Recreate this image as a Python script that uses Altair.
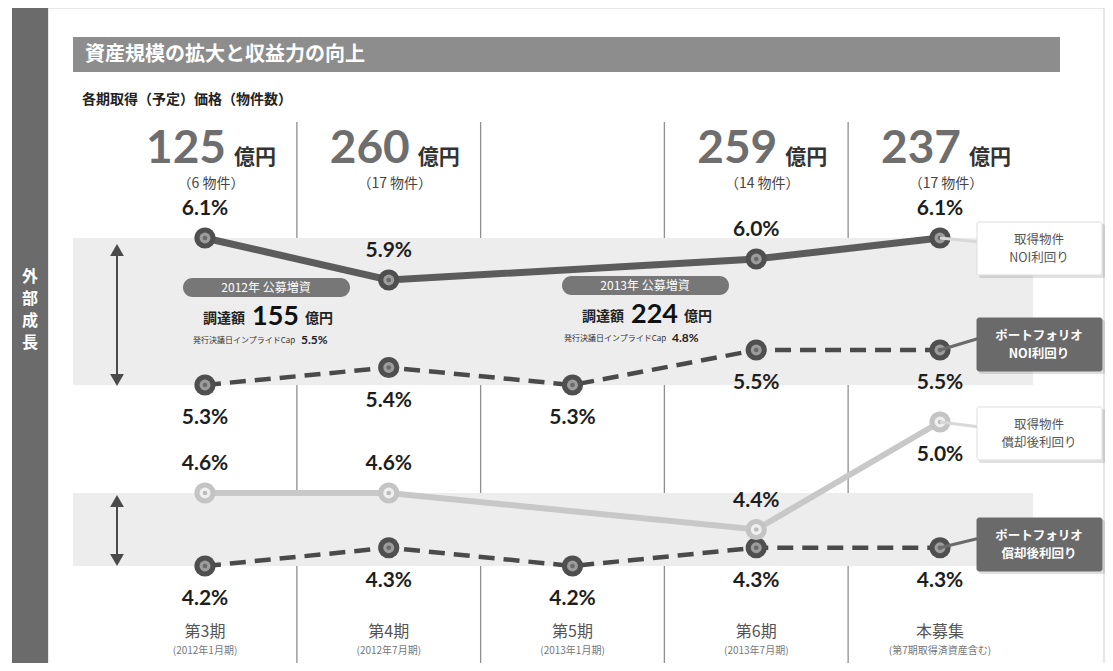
import altair as alt
import pandas as pd

# ---------------- data ----------------
periods = ["第3期", "第4期", "第5期", "第6期", "本募集"]
period_notes = ["(2012年1月期)", "(2012年7月期)", "(2013年1月期)", "(2013年7月期)", "(第7期取得済資産含む)"]
acq_price = [125, 260, None, 259, 237]      # 億円
acq_count = [6, 17, None, 14, 17]           # 物件数
noi_acq = [6.1, 5.9, None, 6.0, 6.1]        # 取得物件 NOI利回り
noi_pf = [5.3, 5.4, 5.3, 5.5, 5.5]          # ポートフォリオ NOI利回り
dep_acq = [4.6, 4.6, None, 4.4, 5.0]        # 取得物件 償却後利回り
dep_pf = [4.2, 4.3, 4.2, 4.3, 4.3]          # ポートフォリオ 償却後利回り
series_names = [["取得物件", "NOI利回り"], ["ポートフォリオ", "NOI利回り"],
                ["取得物件", "償却後利回り"], ["ポートフォリオ", "償却後利回り"]]
side_title = ["外", "部", "成", "長"]
offerings = ["2012年 公募増資", "2013年 公募増資"]
raised = [155, 224]                          # 億円
implied_cap = [5.5, 4.8]                     # %
band_ranges = [(6.1, 5.3), (4.6, 4.2)]

# label placement (layout only)
label_side = {
    "noi_acq": ["a", "a", "a", "a", "a"],
    "noi_pf": ["b", "b", "b", "b", "b"],
    "dep_acq": ["a", "a", "a", "a", "b"],
    "dep_pf": ["b", "b", "b", "b", "b"],
}

JP = "Noto Sans CJK JP"
NUM = "Lato"
xs = alt.Scale(domain=[0, 4], range=[197, 932], nice=False, zero=False)
ys = alt.Scale(domain=[4.2, 4.6, 5.0, 5.3, 5.9, 6.1], range=[558, 485, 414, 377, 272, 230],
               nice=False, zero=False)
one = pd.DataFrame({"a": [0]})

def X(f="idx:Q"):
    return alt.X(f, scale=xs, axis=None)

def Y(f="v:Q"):
    return alt.Y(f, scale=ys, axis=None)

layers = []

# frame + left bar
layers.append(alt.Chart(one).mark_rect(fill="white", stroke="#cfcfcf", strokeWidth=1).encode(
    x=alt.value(40), x2=alt.value(1096), y=alt.value(0), y2=alt.value(662)))
layers.append(alt.Chart(one).mark_rect(fill="#6b6b6b").encode(
    x=alt.value(4), x2=alt.value(40), y=alt.value(0), y2=alt.value(655)))
for k, ch in enumerate(side_title):
    layers.append(alt.Chart(one).mark_text(text=ch, fontSize=16, font=JP, fontWeight="bold",
                                           color="white", align="center", baseline="middle").encode(
        x=alt.value(22), y=alt.value(269 + 22 * k)))

# title bar
layers.append(alt.Chart(one).mark_rect(fill="#8d8d8d").encode(
    x=alt.value(65), x2=alt.value(1052), y=alt.value(29), y2=alt.value(64)))
layers.append(alt.Chart(one).mark_text(text="資産規模の拡大と収益力の向上", fontSize=20, font=JP,
                                       fontWeight="bold", color="white", align="left",
                                       baseline="middle").encode(x=alt.value(77), y=alt.value(47)))
layers.append(alt.Chart(one).mark_text(text="各期取得（予定）価格（物件数）", fontSize=14, font=JP,
                                       fontWeight="bold", color="#222", align="left",
                                       baseline="middle").encode(x=alt.value(74), y=alt.value(92)))

# dividers
div = pd.DataFrame({"idx": [0.5, 1.5, 2.5, 3.5]})
layers.append(alt.Chart(div).mark_rule(color="#8f8f8f", strokeWidth=1.3).encode(
    x=X(), y=alt.value(114), y2=alt.value(655)))

# bands
band = pd.DataFrame({"top": [b[0] for b in band_ranges], "bottom": [b[1] for b in band_ranges]})
layers.append(alt.Chart(band).mark_rect(fill="#ededed").encode(
    x=alt.value(65), x2=alt.value(1025), y=Y("top:Q"), y2="bottom:Q"))

# arrows
for top, bot in [(236, 378), (487, 558)]:
    layers.append(alt.Chart(one).mark_rule(color="#4a4a4a", strokeWidth=2).encode(
        x=alt.value(109), y=alt.value(top + 8), y2=alt.value(bot - 8)))
    layers.append(alt.Chart(one).mark_point(shape="triangle-up", filled=True, size=190,
                                            color="#4a4a4a", opacity=1).encode(
        x=alt.value(109), y=alt.value(top + 6)))
    layers.append(alt.Chart(one).mark_point(shape="triangle-down", filled=True, size=190,
                                            color="#4a4a4a", opacity=1).encode(
        x=alt.value(109), y=alt.value(bot - 6)))

def sdf(vals):
    d = pd.DataFrame({"idx": range(5), "v": vals})
    return d.dropna()

def line_layers(vals, color, width, dash, ring, inner, core):
    d = sdf(vals)
    kw = dict(color=color, strokeWidth=width)
    if dash:
        kw["strokeDash"] = dash
    out = [alt.Chart(d).mark_line(**kw).encode(x=X(), y=Y())]
    out.append(alt.Chart(d).mark_circle(size=450, color=ring, opacity=1).encode(x=X(), y=Y()))
    out.append(alt.Chart(d).mark_circle(size=120, color=inner, opacity=1).encode(x=X(), y=Y()))
    out.append(alt.Chart(d).mark_circle(size=22, color=core, opacity=1).encode(x=X(), y=Y()))
    return out

layers += line_layers(noi_acq, "#5c5c5c", 7, None, "#4f4f4f", "#9c9c9c", "#6a6a6a")
layers += line_layers(noi_pf, "#4a4a4a", 4.5, [16, 9], "#4f4f4f", "#9c9c9c", "#6a6a6a")
layers += line_layers(dep_pf, "#4a4a4a", 4.5, [16, 9], "#4f4f4f", "#9c9c9c", "#6a6a6a")
layers += line_layers(dep_acq, "#c8c8c8", 6, None, "#c4c4c4", "#efefef", "#bcbcbc")

# value labels
for key, vals in [("noi_acq", noi_acq), ("noi_pf", noi_pf), ("dep_acq", dep_acq), ("dep_pf", dep_pf)]:
    d = pd.DataFrame({"idx": range(5), "v": vals, "side": label_side[key]}).dropna()
    d["lab"] = d["v"].map(lambda v: f"{v:.1f}%")
    for side, dy in [("a", -29), ("b", 33)]:
        dd = d[d["side"] == side]
        if len(dd):
            layers.append(alt.Chart(dd).mark_text(dy=dy, fontSize=21, font=NUM, fontWeight="bold",
                                                  color="#1e1e1e", baseline="middle").encode(
                x=X(), y=Y(), text="lab:N"))

# headline acquisition prices
hd = pd.DataFrame({"idx": range(5), "price": acq_price, "count": acq_count}).dropna()
hd["price"] = hd["price"].astype(int)
hd["cnt"] = hd["count"].map(lambda n: f"（{int(n)} 物件）")
layers.append(alt.Chart(hd).mark_text(align="right", baseline="alphabetic", dx=21, fontSize=46,
                                      font=NUM, fontWeight="bold", color="#6e6e6e").encode(
    x=X(), y=alt.value(155), text="price:Q"))
layers.append(alt.Chart(hd).mark_text(text="億円", align="left", baseline="alphabetic", dx=29,
                                      fontSize=21, font=JP, fontWeight="bold", color="#333").encode(
    x=X(), y=alt.value(156)))
layers.append(alt.Chart(hd).mark_text(align="center", baseline="middle", dx=6, fontSize=14,
                                      font=JP, color="#444").encode(
    x=X(), y=alt.value(176), text="cnt:N"))

# period labels
pdf = pd.DataFrame({"idx": range(5), "p": periods, "n": period_notes})
layers.append(alt.Chart(pdf).mark_text(fontSize=16, font=JP, color="#555", baseline="middle").encode(
    x=X(), y=alt.value(624), text="p:N"))
layers.append(alt.Chart(pdf).mark_text(fontSize=10, font=JP, color="#777", baseline="middle").encode(
    x=X(), y=alt.value(643), text="n:N"))

# offering callouts
for i, (px0, py0) in enumerate([(175, 270), (554, 268)]):
    layers.append(alt.Chart(one).mark_rect(fill="#777777", cornerRadius=10).encode(
        x=alt.value(px0), x2=alt.value(px0 + 167), y=alt.value(py0), y2=alt.value(py0 + 19)))
    layers.append(alt.Chart(one).mark_text(text=offerings[i], fontSize=12, font=JP, color="white",
                                           baseline="middle").encode(
        x=alt.value(px0 + 83), y=alt.value(py0 + 10)))
    ty = py0 + 40
    layers.append(alt.Chart(one).mark_text(text="調達額", fontSize=14, font=JP, fontWeight="bold",
                                           color="#222", align="right", baseline="middle").encode(
        x=alt.value(px0 + 62), y=alt.value(ty + 1)))
    layers.append(alt.Chart(one).mark_text(text=str(raised[i]), fontSize=27, font=NUM,
                                           fontWeight="bold", color="#111", align="left",
                                           baseline="middle").encode(
        x=alt.value(px0 + 69), y=alt.value(ty - 1)))
    layers.append(alt.Chart(one).mark_text(text="億円", fontSize=14, font=JP, fontWeight="bold",
                                           color="#222", align="left", baseline="middle").encode(
        x=alt.value(px0 + 122), y=alt.value(ty + 1)))
    layers.append(alt.Chart(one).mark_text(text="発行決議日インプライドCap", fontSize=8, font=JP,
                                           color="#333", align="left", baseline="middle").encode(
        x=alt.value(px0 + 10 - (8 if i else 0)), y=alt.value(py0 + 63)))
    layers.append(alt.Chart(one).mark_text(text=f"{implied_cap[i]:.1f}%", fontSize=12, font=NUM,
                                           fontWeight="bold", color="#222", align="left",
                                           baseline="middle").encode(
        x=alt.value(px0 + 118 - (8 if i else 0)), y=alt.value(py0 + 62)))

# legend boxes at right
box_specs = [(214, False, 6.1), (310, True, 5.5), (399, False, 5.0), (510, True, 4.3)]
for (by, dark, v), name in zip(box_specs, series_names):
    fill = "#6a6a6a" if dark else "white"
    tcol = "white" if dark else "#555"
    pd1 = pd.DataFrame({"idx": [4], "v": [v]})
    layers.append(alt.Chart(pd1).mark_rule(color="#d8d8d8" if not dark else "#6a6a6a",
                                           strokeWidth=3).encode(
        x=X(), x2=alt.value(972), y=Y(), y2=alt.value(by + 20)))
    layers.append(alt.Chart(one).mark_rect(fill="#000", opacity=0.12, cornerRadius=2).encode(
        x=alt.value(971), x2=alt.value(1097), y=alt.value(by + 2), y2=alt.value(by + 56)))
    layers.append(alt.Chart(one).mark_rect(fill=fill, stroke="#dddddd" if not dark else fill,
                                           cornerRadius=2).encode(
        x=alt.value(969), x2=alt.value(1094), y=alt.value(by), y2=alt.value(by + 53)))
    layers.append(alt.Chart(one).mark_text(text=name, fontSize=12.5, lineHeight=18, font=JP,
                                           color=tcol, align="center", baseline="middle",
                                           fontWeight="bold" if dark else "normal").encode(
        x=alt.value(1031), y=alt.value(by + 18)))

chart = alt.layer(*layers).properties(
    width=1097, height=655, padding=0, autosize=alt.AutoSizeParams(type="none")
).configure_view(stroke=None)

chart.save("out.html", embed_options={"renderer": "svg", "actions": False})
